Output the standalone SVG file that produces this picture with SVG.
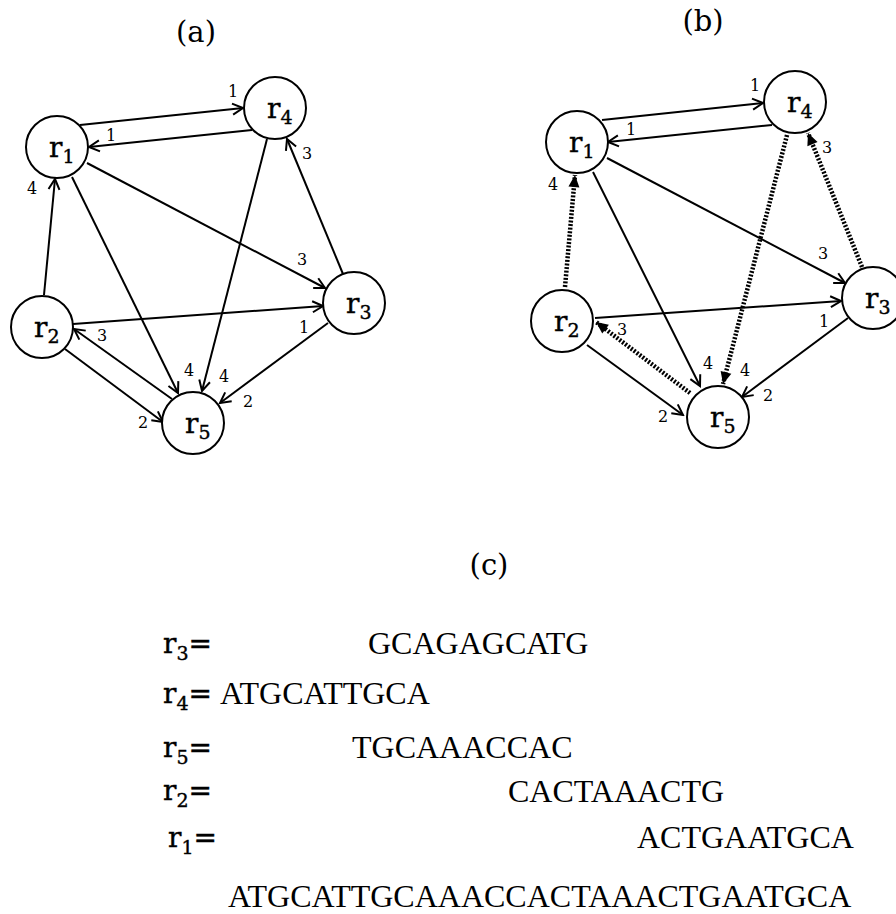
<svg xmlns="http://www.w3.org/2000/svg" width="896" height="914" viewBox="0 0 896 914">
<defs>
<marker id="open" viewBox="0 0 14 14" refX="12" refY="7" markerWidth="14" markerHeight="14" markerUnits="userSpaceOnUse" orient="auto">
<path d="M1.5,1.5 L12,7 L1.5,12.5" fill="none" stroke="#000" stroke-width="2"/>
</marker>
<marker id="solidhead" viewBox="0 0 14 14" refX="13" refY="7" markerWidth="14" markerHeight="14" markerUnits="userSpaceOnUse" orient="auto">
<path d="M1,1.5 L13,7 L1,12.5 Z" fill="#000"/>
</marker>
<style>
.node circle{fill:#fff;stroke:#000;stroke-width:2}
.lab{font-family:"DejaVu Serif",serif;font-size:28px;fill:#000;stroke:#000;stroke-width:0.4}
.sub{font-size:19px}
.e{stroke:#000;stroke-width:2;fill:none;marker-end:url(#open)}
.d{stroke:#000;stroke-width:4.5;stroke-dasharray:2 1.6;fill:none;marker-end:url(#solidhead)}
.w{font-family:"DejaVu Serif",serif;font-size:16px;fill:#000;text-anchor:middle}
.title{font-family:"DejaVu Serif",serif;font-size:29px;fill:#000;text-anchor:middle}
.seq{font-family:"Liberation Serif","Times New Roman",serif;font-size:32px;fill:#000}
</style>
</defs>
<rect width="896" height="914" fill="#fff"/>

<text class="title" x="196" y="42">(a)</text>
<text class="title" x="703" y="31">(b)</text>
<text class="title" x="489" y="575">(c)</text>

<g id="connectors">
<!-- graph a -->
<line class="e" x1="80" y1="125" x2="243" y2="108"/>
<line class="e" x1="252" y1="130" x2="89" y2="147"/>
<line class="e" x1="44" y1="295" x2="55" y2="179"/>
<line class="e" x1="72" y1="177" x2="178" y2="393"/>
<line class="e" x1="87" y1="163" x2="325" y2="288"/>
<line class="e" x1="343" y1="274" x2="287" y2="139"/>
<line class="e" x1="267" y1="139" x2="202" y2="391"/>
<line class="e" x1="73" y1="324" x2="323" y2="306"/>
<line class="e" x1="328" y1="323" x2="220" y2="403"/>
<line class="e" x1="172" y1="399" x2="74" y2="329"/>
<line class="e" x1="65" y1="349" x2="163" y2="422"/>
<!-- graph b -->
<line class="e" x1="602" y1="120" x2="763" y2="103"/>
<line class="e" x1="772" y1="125" x2="608" y2="142"/>
<line class="d" x1="565" y1="287" x2="575" y2="175"/>
<line class="e" x1="593" y1="172" x2="700" y2="386"/>
<line class="e" x1="607" y1="158" x2="845" y2="283"/>
<line class="d" x1="862" y1="267" x2="808" y2="133"/>
<line class="d" x1="787" y1="135" x2="723" y2="384"/>
<line class="e" x1="595" y1="318" x2="841" y2="301"/>
<line class="e" x1="848" y1="318" x2="742" y2="397"/>
<line class="d" x1="690" y1="393" x2="596" y2="322"/>
<line class="e" x1="587" y1="345" x2="683" y2="415"/>
</g>

<g id="edge-labels">
<text class="w" x="233" y="97">1</text>
<text class="w" x="111" y="141">1</text>
<text class="w" x="32" y="194">4</text>
<text class="w" x="307" y="159">3</text>
<text class="w" x="302" y="265">3</text>
<text class="w" x="304" y="333">1</text>
<text class="w" x="189" y="376">4</text>
<text class="w" x="224" y="382">4</text>
<text class="w" x="248" y="407">2</text>
<text class="w" x="102" y="341">3</text>
<text class="w" x="143" y="428">2</text>

<text class="w" x="755" y="91">1</text>
<text class="w" x="631" y="135">1</text>
<text class="w" x="553" y="190">4</text>
<text class="w" x="827" y="153">3</text>
<text class="w" x="823" y="259">3</text>
<text class="w" x="824" y="327">1</text>
<text class="w" x="708" y="369">4</text>
<text class="w" x="745" y="376">4</text>
<text class="w" x="768" y="401">2</text>
<text class="w" x="622" y="335">3</text>
<text class="w" x="663" y="422">2</text>
</g>

<g id="a-r1" class="node"><circle cx="57" cy="147" r="31"/><text class="lab" x="49" y="157">r<tspan class="sub" dy="6">1</tspan></text></g>
<g id="a-r4" class="node"><circle cx="275" cy="108" r="31"/><text class="lab" x="267" y="118">r<tspan class="sub" dy="6">4</tspan></text></g>
<g id="a-r2" class="node"><circle cx="42" cy="327" r="31"/><text class="lab" x="34" y="337">r<tspan class="sub" dy="6">2</tspan></text></g>
<g id="a-r3" class="node"><circle cx="354" cy="303" r="31"/><text class="lab" x="346" y="313">r<tspan class="sub" dy="6">3</tspan></text></g>
<g id="a-r5" class="node"><circle cx="193" cy="423" r="31"/><text class="lab" x="185" y="433">r<tspan class="sub" dy="6">5</tspan></text></g>

<g id="b-r1" class="node"><circle cx="577" cy="142" r="31"/><text class="lab" x="569" y="152">r<tspan class="sub" dy="6">1</tspan></text></g>
<g id="b-r4" class="node"><circle cx="795" cy="102" r="31"/><text class="lab" x="787" y="112">r<tspan class="sub" dy="6">4</tspan></text></g>
<g id="b-r2" class="node"><circle cx="562" cy="321" r="31"/><text class="lab" x="554" y="331">r<tspan class="sub" dy="6">2</tspan></text></g>
<g id="b-r3" class="node"><circle cx="873" cy="298" r="31"/><text class="lab" x="865" y="308">r<tspan class="sub" dy="6">3</tspan></text></g>
<g id="b-r5" class="node"><circle cx="718" cy="417" r="31"/><text class="lab" x="710" y="427">r<tspan class="sub" dy="6">5</tspan></text></g>

<g id="reads">
<text class="lab" x="163" y="653">r<tspan class="sub" dy="7">3</tspan><tspan dy="-7">=</tspan></text>
<text class="seq" x="368" y="654">GCAGAGCATG</text>
<text class="lab" x="163" y="703">r<tspan class="sub" dy="7">4</tspan><tspan dy="-7">=</tspan></text>
<text class="seq" x="220" y="704">ATGCATTGCA</text>
<text class="lab" x="163" y="757">r<tspan class="sub" dy="7">5</tspan><tspan dy="-7">=</tspan></text>
<text class="seq" x="352" y="758">TGCAAACCAC</text>
<text class="lab" x="163" y="800">r<tspan class="sub" dy="7">2</tspan><tspan dy="-7">=</tspan></text>
<text class="seq" x="508" y="802">CACTAAACTG</text>
<text class="lab" x="168" y="847">r<tspan class="sub" dy="7">1</tspan><tspan dy="-7">=</tspan></text>
<text class="seq" x="637" y="848">ACTGAATGCA</text>
<text class="seq" x="228" y="907">ATGCATTGCAAACCACTAAACTGAATGCA</text>
</g>
</svg>
